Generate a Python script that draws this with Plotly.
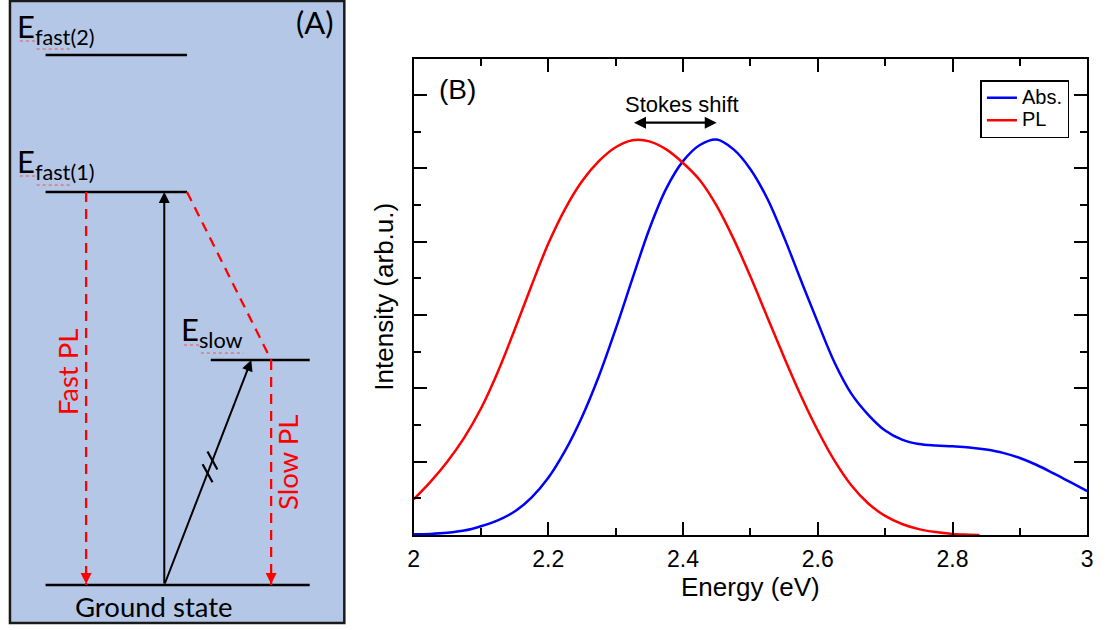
import plotly.graph_objects as go

# ---------------- Spectra (panel B) ----------------
energy_abs = [2.000, 2.025, 2.050, 2.075, 2.100, 2.125, 2.150, 2.175, 2.200, 2.225,
              2.250, 2.275, 2.300, 2.325, 2.350, 2.375, 2.400, 2.425, 2.450, 2.475,
              2.500, 2.525, 2.550, 2.575, 2.600, 2.625, 2.650, 2.675, 2.700, 2.725,
              2.750, 2.775, 2.800, 2.825, 2.850, 2.875, 2.900, 2.925, 2.950, 2.975,
              3.000]
abs_intensity = [0.02, 0.03, 0.06, 0.12, 0.24, 0.40, 0.64, 1.02, 1.56, 2.30,
                 3.22, 4.33, 5.62, 7.00, 8.35, 9.45, 10.20, 10.64, 10.79, 10.52,
                 9.98, 9.18, 8.12, 6.95, 5.80, 4.70, 3.85, 3.28, 2.85, 2.60,
                 2.48, 2.44, 2.42, 2.39, 2.33, 2.24, 2.10, 1.91, 1.68, 1.44,
                 1.20]

energy_pl = [2.000, 2.025, 2.050, 2.075, 2.100, 2.125, 2.150, 2.175, 2.200, 2.225,
             2.250, 2.275, 2.300, 2.325, 2.350, 2.375, 2.400, 2.425, 2.450, 2.475,
             2.500, 2.525, 2.550, 2.575, 2.600, 2.625, 2.650, 2.675, 2.700, 2.725,
             2.750, 2.775, 2.800, 2.825, 2.840]
pl_intensity = [0.97, 1.45, 2.00, 2.65, 3.45, 4.45, 5.60, 6.80, 7.95, 8.90,
                9.65, 10.20, 10.58, 10.77, 10.74, 10.52, 10.15, 9.68, 8.98, 8.08,
                7.05, 5.95, 4.85, 3.80, 2.85, 2.02, 1.35, 0.86, 0.52, 0.30,
                0.16, 0.08, 0.03, 0.01, 0.00]

x_tick_vals = [2.0, 2.2, 2.4, 2.6, 2.8, 3.0]
x_tick_text = ["2", "2.2", "2.4", "2.6", "2.8", "3"]
y_major_ticks = [2, 4, 6, 8, 10, 12]
stokes_arrow_level = 11.25

# ---------------- Energy-level scheme (panel A, diagram units) ----------------
level_energy = {"ground": 0.0, "slow": 2.25, "fast1": 3.93, "fast2": 5.30}
level_span = {"ground": (0.40, 3.07), "slow": (2.07, 3.07),
              "fast1": (0.40, 1.83), "fast2": (0.40, 1.83)}
fast_pl_x = 0.81
absorption_x = 1.60
slow_abs_tip_x = 2.48
slow_pl_x = 2.68

BOX_BLUE = "#B4C7E7"
RED = "#FF0000"
SCHEME_FONT = "Lato, Carlito, Calibri, sans-serif"
PLOT_FONT = "Liberation Sans, Arial, Helvetica, sans-serif"

W, H = 1116, 630

fig = go.Figure()

# spectra
legend_label = '<span style="font-size:20px">{}</span>'
fig.add_trace(go.Scatter(x=energy_abs, y=abs_intensity, mode="lines",
                         name=legend_label.format("Abs."),
                         line=dict(color="#0000FF", width=2.5, shape="spline", smoothing=1.0)))
fig.add_trace(go.Scatter(x=energy_pl, y=pl_intensity, mode="lines",
                         name=legend_label.format("PL"),
                         line=dict(color=RED, width=2.5, shape="spline", smoothing=1.0)))

# level lines
for key in ["ground", "slow", "fast1", "fast2"]:
    x0, x1 = level_span[key]
    e = level_energy[key]
    fig.add_trace(go.Scatter(x=[x0, x1], y=[e, e], mode="lines", xaxis="x2", yaxis="y2",
                             showlegend=False, hoverinfo="skip",
                             line=dict(color="black", width=2.5)))

# dashed emission / relaxation paths
dash = "10px,7px"
dashed_paths = [
    ([fast_pl_x, fast_pl_x], [level_energy["fast1"], level_energy["ground"]]),
    ([level_span["fast1"][1], slow_pl_x], [level_energy["fast1"], level_energy["slow"]]),
    ([slow_pl_x, slow_pl_x], [level_energy["slow"], level_energy["ground"]]),
]
for xs, ys in dashed_paths:
    fig.add_trace(go.Scatter(x=xs, y=ys, mode="lines", xaxis="x2", yaxis="y2",
                             showlegend=False, hoverinfo="skip",
                             line=dict(color=RED, width=2.3, dash=dash)))

# break marks on the direct ground -> slow absorption
g, s = level_energy["ground"], level_energy["slow"]
for t in (0.497, 0.553):
    cx = absorption_x + (slow_abs_tip_x - absorption_x) * t
    cy = g + (s - g) * t
    fig.add_trace(go.Scatter(x=[cx - 0.05, cx + 0.05], y=[cy + 0.09, cy - 0.09], mode="lines",
                             xaxis="x2", yaxis="y2", showlegend=False, hoverinfo="skip",
                             line=dict(color="black", width=2.2)))

# spell-check style dotted underlines below the level labels
underlines = [
    ((0.14, 0.31), 5.44), ((0.31, 0.65), 5.36),
    ((0.14, 0.31), 4.09), ((0.31, 0.65), 4.00),
    ((1.80, 1.97), 2.40), ((1.97, 2.40), 2.32),
]
for (ux0, ux1), uy in underlines:
    fig.add_trace(go.Scatter(x=[ux0, ux1], y=[uy, uy], mode="lines", xaxis="x2", yaxis="y2",
                             showlegend=False, hoverinfo="skip",
                             line=dict(color="#F05050", width=1, dash="dot")))

annotations = []

# solid absorption arrows
for tail, tip in [((absorption_x, g), (absorption_x, level_energy["fast1"])),
                  ((absorption_x, g), (slow_abs_tip_x, s))]:
    annotations.append(dict(x=tip[0], y=tip[1], ax=tail[0], ay=tail[1],
                            xref="x2", yref="y2", axref="x2", ayref="y2", text="",
                            showarrow=True, arrowhead=2, arrowsize=1.1, arrowwidth=2,
                            arrowcolor="black", standoff=0, startstandoff=0))

# red arrowheads at the ground state
for xpos in (fast_pl_x, slow_pl_x):
    annotations.append(dict(x=xpos, y=g, xref="x2", yref="y2", ax=0, ay=-12, text="",
                            showarrow=True, arrowhead=2, arrowsize=1.1, arrowwidth=2,
                            arrowcolor=RED, standoff=1))

def scheme_text(x, y, text, size, color="black", anchor="left", angle=0):
    annotations.append(dict(x=x, y=y, xref="x2", yref="y2", text=text, showarrow=False,
                            xanchor=anchor, yanchor="middle", textangle=angle,
                            font=dict(family=SCHEME_FONT, size=size, color=color)))

scheme_text(3.12, 5.63, "(A)", 31, anchor="center")
scheme_text(0.09, 5.57, "E<sub>fast(2)</sub>", 31)
scheme_text(0.09, 4.22, "E<sub>fast(1)</sub>", 31)
scheme_text(1.75, 2.54, "E<sub>slow</sub>", 31)
scheme_text(1.50, -0.21, "Ground state", 27.5, anchor="center")
scheme_text(0.62, 2.13, "Fast PL", 27.5, color=RED, anchor="center", angle=-90)
scheme_text(2.84, 1.23, "Slow PL", 27.5, color=RED, anchor="center", angle=-90)

# Stokes shift arrow between the two band maxima
pl_peak = energy_pl[pl_intensity.index(max(pl_intensity))]
abs_peak = energy_abs[abs_intensity.index(max(abs_intensity))]
annotations.append(dict(x=abs_peak, y=stokes_arrow_level, ax=pl_peak, ay=stokes_arrow_level,
                        xref="x", yref="y", axref="x", ayref="y", text="",
                        showarrow=True, arrowhead=2, startarrowhead=2, arrowside="end+start",
                        arrowsize=1, startarrowsize=1, arrowwidth=2.4, arrowcolor="black",
                        standoff=0, startstandoff=0))
annotations.append(dict(x=(pl_peak + abs_peak) / 2, y=stokes_arrow_level, xref="x", yref="y",
                        text="Stokes shift", showarrow=False, yanchor="bottom", yshift=4,
                        xshift=7, font=dict(family=PLOT_FONT, size=22, color="black")))
annotations.append(dict(x=456 / W, y=1 - 90 / H, xref="paper", yref="paper", text="(B)",
                        showarrow=False, xanchor="center", yanchor="middle",
                        font=dict(family=PLOT_FONT, size=28, color="black")))

shapes = [dict(type="rect", xref="x2", yref="y2", x0=0.04, x1=3.42, y0=-0.38, y1=5.84,
               fillcolor=BOX_BLUE, line=dict(color="#1a1a1a", width=2.5), layer="below")]

axis_common = dict(showgrid=False, zeroline=False, showline=True, linewidth=2,
                   linecolor="black", mirror="ticks", ticks="inside", ticklen=13,
                   tickwidth=1.5, tickcolor="black")

fig.update_layout(
    width=W, height=H,
    margin=dict(l=0, r=0, t=0, b=0),
    paper_bgcolor="white", plot_bgcolor="white",
    font=dict(family=PLOT_FONT, color="black"),
    xaxis=dict(domain=[412 / W, 1093 / W], range=[2, 3], tickmode="array",
               tickvals=x_tick_vals, ticktext=x_tick_text,
               tickfont=dict(size=23), ticklabelstandoff=2,
               minor=dict(dtick=0.1, tick0=2, ticks="inside", ticklen=7,
                          tickwidth=1.5, tickcolor="black"),
               title=dict(text="Energy (eV)", font=dict(size=26), standoff=4),
               **axis_common),
    yaxis=dict(domain=[1 - 535 / H, 1 - 58.5 / H], range=[0, 13], tickmode="array",
               tickvals=y_major_ticks, showticklabels=False,
               minor=dict(dtick=1, tick0=0, ticks="inside", ticklen=7,
                          tickwidth=1.5, tickcolor="black"),
               title=dict(text="Intensity (arb.u.)", font=dict(size=26), standoff=10),
               **axis_common),
    xaxis2=dict(domain=[0, 345 / W], range=[0, 3.45], visible=False, fixedrange=True,
                anchor="y2"),
    yaxis2=dict(domain=[0, 1], range=[-0.45, 5.85], visible=False, fixedrange=True,
                anchor="x2"),
    legend=dict(x=1075 / W, y=1 - 80 / H, xanchor="right", yanchor="top",
                bgcolor="white", bordercolor="black", borderwidth=1.5,
                font=dict(family=PLOT_FONT, size=15), itemwidth=30,
                tracegroupgap=0),
    shapes=shapes,
    annotations=annotations,
)

fig.write_html("out.html")
